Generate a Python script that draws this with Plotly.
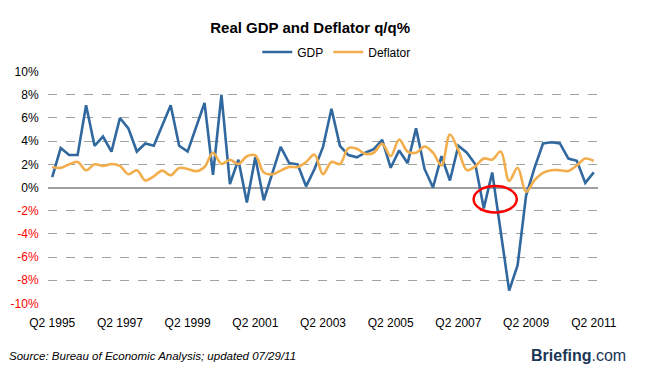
import plotly.graph_objects as go

# ---- data ----
start_year = 1995
quarters = []
q, y = 2, start_year
for _ in range(65):
    quarters.append(f"Q{q} {y}")
    q += 1
    if q > 4:
        q, y = 1, y + 1

gdp = [0.9, 3.4, 2.8, 2.8, 7.1, 3.6, 4.4, 3.1, 6.0, 5.1, 3.1, 3.8, 3.6, 5.3, 7.1, 3.6,
       3.1, 5.2, 7.3, 1.1, 8.0, 0.3, 2.4, -1.3, 2.6, -1.1, 1.3, 3.5, 2.1, 2.0, 0.1, 1.6,
       3.5, 6.8, 3.6, 2.8, 2.6, 3.0, 3.3, 4.1, 1.7, 3.2, 2.1, 5.1, 1.6, 0.0, 2.7, 0.6,
       3.6, 3.0, 2.0, -1.8, 1.3, -3.7, -8.9, -6.7, -0.7, 1.7, 3.8, 3.9, 3.8, 2.5, 2.3,
       0.4, 1.3]

deflator = [1.77, 1.69, 2.0, 2.2, 1.49, 2.0, 1.86, 2.03, 1.86, 1.14, 1.49, 0.6, 0.97,
            1.46, 1.06, 1.69, 1.6, 1.4, 1.77, 3.0, 2.03, 2.4, 2.03, 2.7, 2.77, 1.29,
            1.14, 1.46, 1.77, 1.77, 2.2, 2.83, 1.15, 2.2, 2.03, 3.4, 3.34, 2.9, 3.0,
            3.77, 2.7, 4.14, 3.1, 3.0, 3.54, 3.0, 1.9, 4.57, 3.2, 1.5, 1.83, 2.5, 2.4,
            3.1, 0.57, 1.7, -0.37, 0.63, 1.26, 1.49, 1.49, 1.43, 1.9, 2.5, 2.3]

x_tick_labels = ["Q2 1995", "Q2 1997", "Q2 1999", "Q2 2001", "Q2 2003",
                 "Q2 2005", "Q2 2007", "Q2 2009", "Q2 2011"]
y_tick_values = [10, 8, 6, 4, 2, 0, -2, -4, -6, -8, -10]

# ---- figure ----
xs = list(range(len(quarters)))
fig = go.Figure()
fig.add_trace(go.Scatter(x=xs, y=gdp, name="GDP", mode="lines",
                         line=dict(color="#30689f", width=2.6)))
fig.add_trace(go.Scatter(x=xs, y=deflator, name="Deflator", mode="lines",
                         line=dict(color="#f2ae4c", width=2.6, shape="spline", smoothing=1.0)))

y_ticktext = [f"{v}%" if v >= 0 else f'<span style="color:#ff0000">{v}%</span>'
              for v in y_tick_values]

fig.update_xaxes(
    range=[-0.5, 64.5], tickmode="array",
    tickvals=[quarters.index(t) for t in x_tick_labels], ticktext=x_tick_labels,
    showgrid=False, zeroline=False, showline=False,
    ticks="outside", ticklen=8, tickcolor="rgba(0,0,0,0)",
    tickfont=dict(family="Liberation Sans, Arial, sans-serif", size=12, color="#000000"),
)
fig.update_yaxes(
    range=[-10.05, 10.05], tickmode="array", tickvals=y_tick_values, ticktext=y_ticktext,
    showgrid=True, gridcolor="#9ea59e", griddash="dash", gridwidth=1,
    zeroline=True, zerolinecolor="#a0a0a0", zerolinewidth=1.5,
    showline=False, ticks="outside", ticklen=6, tickcolor="rgba(0,0,0,0)",
    tickfont=dict(family="Liberation Sans, Arial, sans-serif", size=12, color="#000000"),
)

# hand-drawn red circle highlight (2008)
fig.add_shape(type="circle", xref="x", yref="y", x0=49.8, x1=54.9, y0=-2.15, y1=0.12,
              line=dict(color="#ff0000", width=2.5))

fig.add_annotation(text="<i>Source: Bureau of Economic Analysis; updated 07/29/11</i>",
                   xref="paper", yref="paper", x=-0.0745, y=-0.223,
                   xanchor="left", yanchor="middle", showarrow=False,
                   font=dict(family="Liberation Sans, Arial, sans-serif", size=11.5, color="#000000"))
fig.add_annotation(text="<b>Briefing</b>.com",
                   xref="paper", yref="paper", x=0.965, y=-0.219,
                   xanchor="center", yanchor="middle", showarrow=False,
                   font=dict(family="Liberation Sans, Arial, sans-serif", size=16, color="#1b3656"))

fig.update_layout(
    width=657, height=380,
    margin=dict(l=48, r=59, t=71, b=76, autoexpand=False),
    paper_bgcolor="#ffffff", plot_bgcolor="#ffffff",
    title=dict(text="<b>Real GDP and Deflator q/q%</b>", xref="container", yref="container",
               x=0.472, y=0.926, xanchor="center", yanchor="middle",
               font=dict(family="Liberation Sans, Arial, sans-serif", size=15, color="#000000")),
    legend=dict(orientation="h", x=0.525, y=1.0815, xanchor="center", yanchor="middle",
                font=dict(family="Liberation Sans, Arial, sans-serif", size=12, color="#000000"),
                itemwidth=30, bgcolor="rgba(0,0,0,0)"),
    showlegend=True,
)

fig.write_html("out.html", config={"displayModeBar": False},
               post_script="document.body.style.margin='0';")
